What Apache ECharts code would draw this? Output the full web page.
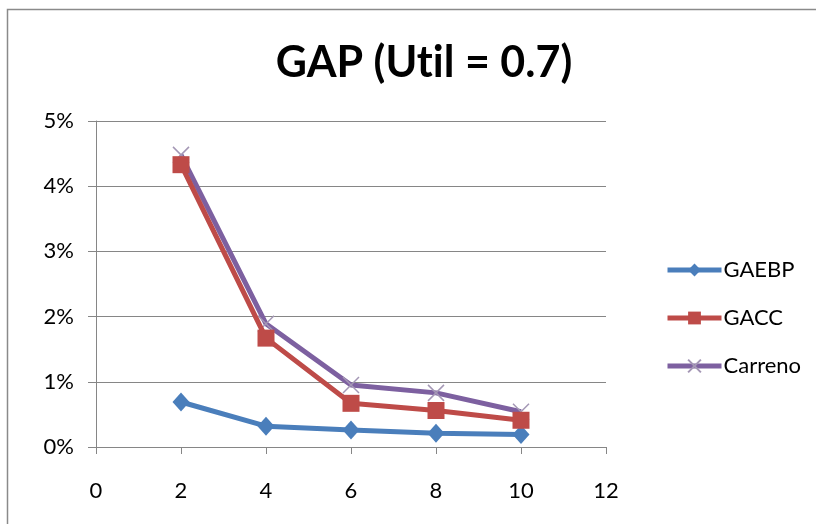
<!DOCTYPE html>
<html>
<head>
<meta charset="utf-8">
<script src="https://cdn.jsdelivr.net/npm/echarts@6/dist/echarts.min.js"></script>
<style>
  html, body { margin: 0; padding: 0; background: #fff; }
  #chart { width: 816px; height: 524px; }
</style>
</head>
<body>
<div id="chart"></div>
<script>
// Number of tasks (x) against gap in percent (y)
const xValues = [2, 4, 6, 8, 10];
const gaebp = [0.69, 0.32, 0.26, 0.21, 0.19];
const gacc = [4.33, 1.67, 0.67, 0.56, 0.41];
const carreno = [4.48, 1.89, 0.95, 0.83, 0.54];
const seriesNames = ['GAEBP', 'GACC', 'Carreno'];
const yTicks = [0, 1, 2, 3, 4, 5];
const xTicks = [0, 2, 4, 6, 8, 10, 12];
// zero-width non-joiner keeps "t" and "i" as separate glyphs
const titleText = 'GAP (Ut\u200Cil = 0.7)';

const FONT = 'Lato, sans-serif';
const crossPath = 'path://M0,0L10,10M10,0L0,10';

function pairs(ys) { return xValues.map((x, i) => [x, ys[i]]); }

const chart = echarts.init(document.getElementById('chart'), null, { renderer: 'canvas' });
chart.setOption({
  backgroundColor: '#fff',
  animation: false,
  title: {
    text: titleText,
    left: 419, top: 37, textAlign: 'center',
    textStyle: { fontFamily: FONT, fontWeight: 'bold', fontSize: 43, color: '#000' }
  },
  graphic: [{
    type: 'rect', shape: { x: 7.5, y: 9.5, width: 900, height: 600 },
    style: { fill: 'none', stroke: '#8a8a8a', lineWidth: 1.5 }, silent: true
  }],
  legend: {
    orient: 'vertical', left: 660, top: 254, itemGap: 26,
    itemWidth: 54, itemHeight: 16,
    lineStyle: { width: 5 },
    textStyle: { fontFamily: FONT, fontSize: 22, color: '#000', padding: [0, 0, 0, -3] },
    data: seriesNames
  },
  grid: { left: 96, right: 210, top: 121, bottom: 77 },
  xAxis: {
    type: 'value', min: xTicks[0], max: xTicks[xTicks.length - 1], interval: 2,
    axisLine: { lineStyle: { color: '#868686', width: 1 } },
    axisTick: { show: true, inside: false, length: 7, lineStyle: { color: '#868686' } },
    axisLabel: { margin: 33, fontFamily: FONT, fontSize: 22, color: '#000' },
    splitLine: { show: false }
  },
  yAxis: {
    type: 'value', min: yTicks[0], max: yTicks[yTicks.length - 1], interval: 1,
    axisLine: { show: true, lineStyle: { color: '#868686', width: 1 } },
    axisTick: { show: true, inside: false, length: 8, lineStyle: { color: '#868686' } },
    axisLabel: { margin: 22, fontFamily: FONT, fontSize: 22, color: '#000', formatter: v => v + '%' },
    splitLine: { show: true, lineStyle: { color: '#868686', width: 1 } }
  },
  series: [
    {
      name: seriesNames[0], type: 'line', data: pairs(gaebp),
      symbol: 'diamond', symbolSize: [17, 19], z: 3,
      lineStyle: { color: '#4a7ebb', width: 5 },
      itemStyle: { color: '#4a7ebb' }
    },
    {
      name: seriesNames[1], type: 'line', data: pairs(gacc),
      symbol: 'rect', symbolSize: 17, z: 4,
      lineStyle: { color: '#be4b48', width: 5 },
      itemStyle: { color: '#be4b48' }
    },
    {
      name: seriesNames[2], type: 'line', data: pairs(carreno),
      symbol: crossPath, symbolSize: 16, z: 2,
      lineStyle: { color: '#7d60a0', width: 5 },
      itemStyle: { color: 'rgba(0,0,0,0)', borderColor: '#a497b5', borderWidth: 1.5 }
    }
  ]
});
</script>
</body>
</html>
